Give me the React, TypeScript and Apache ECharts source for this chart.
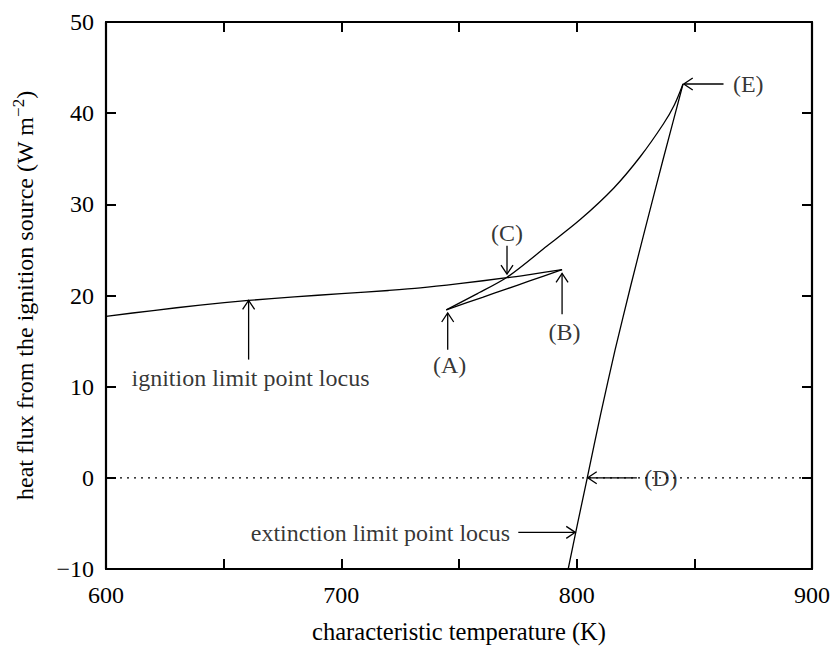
import React, { useEffect, useRef } from "react";
import * as echarts from "echarts";

// ignition branch (from left edge to fold B)
const ignitionT = [600, 620, 640, 660.6, 680, 700, 720, 733.6, 750, 770.4, 780, 793.8];
const ignitionQ = [17.72, 18.35, 18.95, 19.46, 19.85, 20.2, 20.55, 20.83, 21.3, 21.95, 22.3, 22.83];
// middle branch (B back to fold A)
const middleT = [793.8, 780, 770, 760, 744.6];
const middleQ = [22.83, 21.6, 20.7, 19.8, 18.43];
// upper branch (A up to fold E)
const upperT = [744.6, 757, 770.4, 787.4, 801.5, 815.7, 827, 836.9, 841.5, 845.2];
const upperQ = [18.43, 20.1, 22.0, 25.43, 28.33, 31.77, 35.22, 38.84, 40.9, 43.2];
// extinction limit point locus (E downward)
const extinctionT = [845.2, 836.8, 828.8, 823.0, 816.3, 810.2, 804.5, 800.4, 796.4];
const extinctionQ = [43.2, 35, 27, 21.1, 14, 7, 0, -5, -10];

const zeroT = [600, 900];
const zeroQ = [0, 0];

// annotation arrows: tail (x,y) -> tip (x,y)
const arrowTailT = [660.6, 745.2, 793.8, 770.4, 825.6, 862.4, 775.2];
const arrowTailQ = [12.97, 14.05, 17.93, 25.47, 0, 43.2, -5.98];
const arrowTipT = [660.6, 745.2, 793.8, 770.4, 804.7, 845.5, 799.4];
const arrowTipQ = [19.46, 18.08, 22.42, 22.35, 0, 43.2, -5.98];

const labelTexts = [
  "ignition limit point locus",
  "(A)",
  "(B)",
  "(C)",
  "(D)",
  "(E)",
  "extinction limit point locus",
];
const labelT = [661.4, 746.0, 794.8, 770.4, 835.8, 872.9, 716.6];
const labelQ = [10.97, 12.39, 16.0, 26.88, 0, 43.2, -6.09];

const xTicks = [600, 700, 800, 900];

const FONT = "'Liberation Serif', 'Times New Roman', serif";

function pairs(xs: number[], ys: number[]) {
  return xs.map((x, i) => [x, ys[i]]);
}

export default function App() {
  const ref = useRef<HTMLDivElement>(null);
  useEffect(() => {
    document.body.style.margin = "0";
    if (!ref.current) return;
    const chart = echarts.init(ref.current, null, { renderer: "svg" });
    const lineStyle = { color: "#000", width: 1.3 };
    const curve = (name: string, xs: number[], ys: number[], smooth: number) => ({
      name,
      type: "line",
      data: pairs(xs, ys),
      showSymbol: false,
      symbol: "none",
      smooth,
      lineStyle,
      z: 3,
    });
    const axisCommon = {
      axisLine: { show: true, onZero: false, lineStyle: { color: "#000", width: 2.2 } },
      axisTick: { show: true, inside: true, length: 10, lineStyle: { color: "#000", width: 2 } },
      splitLine: { show: false },
    };
    chart.setOption({
      animation: false,
      backgroundColor: "#fff",
      grid: { left: 106, right: 21, top: 22, bottom: 75, containLabel: false },
      xAxis: [
        {
          type: "value",
          min: 600,
          max: 900,
          interval: 50,
          position: "bottom",
          name: "characteristic temperature (K)",
          nameLocation: "middle",
          nameGap: 50,
          nameTextStyle: { fontFamily: FONT, fontSize: 24.5, color: "#000" },
          ...axisCommon,
          axisLabel: {
            margin: 14,
            fontFamily: FONT,
            fontSize: 24,
            color: "#000",
            formatter: (v: number) => (xTicks.indexOf(v) >= 0 ? String(v) : ""),
          },
        },
        {
          type: "value",
          min: 600,
          max: 900,
          interval: 50,
          position: "top",
          ...axisCommon,
          axisLabel: { show: false },
        },
      ],
      yAxis: [
        {
          type: "value",
          min: -10,
          max: 50,
          interval: 10,
          position: "left",
          name: "heat flux from the ignition source (W m{sup|−2})",
          nameLocation: "middle",
          nameGap: 66,
          nameTextStyle: {
            fontFamily: FONT,
            fontSize: 24,
            color: "#000",
            rich: {
              sup: { fontFamily: FONT, fontSize: 17, color: "#000", verticalAlign: "top", lineHeight: 30 },
            },
          },
          ...axisCommon,
          axisLabel: {
            margin: 12,
            fontFamily: FONT,
            fontSize: 24,
            color: "#000",
            formatter: (v: number) => (v < 0 ? "−" + Math.abs(v) : String(v)),
          },
        },
        {
          type: "value",
          min: -10,
          max: 50,
          interval: 10,
          position: "right",
          ...axisCommon,
          axisLabel: { show: false },
        },
      ],
      series: [
        {
          name: "zero",
          type: "line",
          data: pairs(zeroT, zeroQ),
          showSymbol: false,
          symbol: "none",
          lineStyle: { color: "#000", width: 1.3, type: [2, 5] },
          z: 2,
        },
        curve("ignition", ignitionT, ignitionQ, 0.3),
        curve("middle", middleT, middleQ, 0.3),
        curve("upper", upperT, upperQ, 0.3),
        curve("extinction", extinctionT, extinctionQ, 0.2),
        {
          name: "arrows",
          type: "custom",
          data: arrowTailT.map((x, i) => [x, arrowTailQ[i], arrowTipT[i], arrowTipQ[i]]),
          encode: { x: [0, 2], y: [1, 3] },
          z: 4,
          renderItem: (params: any, api: any) => {
            const a = api.coord([api.value(0), api.value(1)]);
            const b = api.coord([api.value(2), api.value(3)]);
            const ang = Math.atan2(b[1] - a[1], b[0] - a[0]);
            const L = 9;
            const W = 6;
            const bx = b[0] - L * Math.cos(ang);
            const by = b[1] - L * Math.sin(ang);
            const px = -Math.sin(ang) * W;
            const py = Math.cos(ang) * W;
            const st = { stroke: "#000", lineWidth: 1.3, fill: null };
            return {
              type: "group",
              children: [
                { type: "line", shape: { x1: a[0], y1: a[1], x2: b[0], y2: b[1] }, style: st },
                {
                  type: "polyline",
                  shape: { points: [[bx + px, by + py], [b[0], b[1]], [bx - px, by - py]] },
                  style: st,
                },
              ],
            };
          },
        },
        {
          name: "labels",
          type: "scatter",
          symbolSize: 0,
          data: labelT.map((x, i) => ({ value: [x, labelQ[i]], name: labelTexts[i] })),
          z: 5,
          label: {
            show: true,
            position: "inside",
            formatter: "{b}",
            fontFamily: FONT,
            fontSize: 24,
            color: "#000",
            textBorderWidth: 0,
            textBorderColor: "transparent",
          },
          emphasis: { disabled: true },
          silent: true,
        },
      ],
    });
    return () => chart.dispose();
  }, []);
  return <div ref={ref} style={{ width: 833, height: 649 }} />;
}
